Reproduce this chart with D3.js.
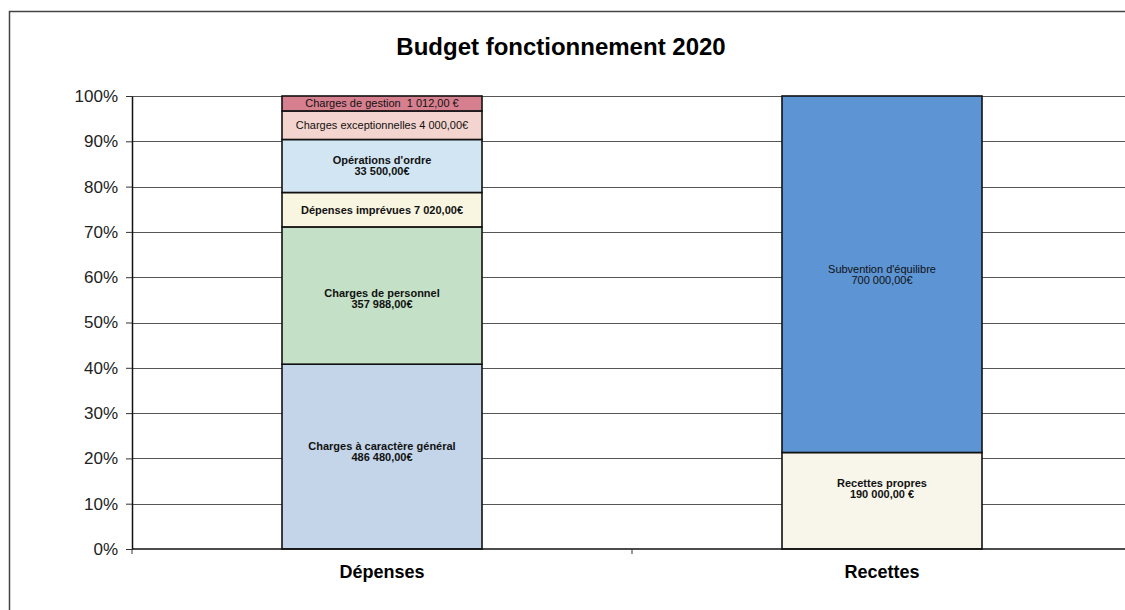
<!DOCTYPE html>
<html>
<head>
<meta charset="utf-8">
<script src="https://cdn.jsdelivr.net/npm/d3@7"></script>
<style>
  body { margin: 0; background: #fff; }
  svg text { font-family: "Liberation Sans", Arial, sans-serif; }
</style>
</head>
<body>
<div id="holder"></div>
<script>
// categories on the x axis
var categories = ["Dépenses", "Recettes"];

// Dépenses stack, bottom to top (share of the bar in %, as drawn)
var depensesNames = ["Charges à caractère général", "Charges de personnel", "Dépenses imprévues",
  "Opérations d'ordre", "Charges exceptionnelles", "Charges de gestion"];
var depensesAmounts = ["486 480,00€", "357 988,00€", "7 020,00€", "33 500,00€", "4 000,00€", "1 012,00 €"];
var depensesShares = [40.8, 30.3, 7.6, 11.7, 6.3, 3.3];

// Recettes stack, bottom to top
var recettesNames = ["Recettes propres", "Subvention d'équilibre"];
var recettesAmounts = ["190 000,00 €", "700 000,00€"];
var recettesShares = [21.3, 78.7];

var yTicks = [0, 10, 20, 30, 40, 50, 60, 70, 80, 90, 100];

var colors = {
  "Charges à caractère général": "#c4d5ea",
  "Charges de personnel": "#c4e0c6",
  "Dépenses imprévues": "#f8f5e1",
  "Opérations d'ordre": "#d2e5f3",
  "Charges exceptionnelles": "#f3d4ce",
  "Charges de gestion": "#d67f8e",
  "Recettes propres": "#f8f6ea",
  "Subvention d'équilibre": "#5c94d4"
};
// labels that are not bold
var plainLabels = ["Charges exceptionnelles", "Charges de gestion", "Subvention d'équilibre"];
// small hand nudges of the label blocks (px)
var nudge = { "Charges à caractère général": -5, "Charges de personnel": 3, "Recettes propres": -12 };

var fullWidth = 1125, fullHeight = 610;
var margin = {top: 96, left: 132, bottom: 61};
var height = fullHeight - margin.top - margin.bottom;

var svg = d3.select("#holder").append("svg")
  .attr("width", fullWidth)
  .attr("height", fullHeight);

// chart frame (right/bottom edges fall outside the picture)
svg.append("rect")
  .attr("x", 9.5).attr("y", 11.5)
  .attr("width", 1300).attr("height", 800)
  .attr("fill", "#fff")
  .attr("stroke", "#444").attr("stroke-width", 1.5);

svg.append("text")
  .attr("x", 561).attr("y", 55)
  .attr("text-anchor", "middle")
  .style("font-size", "24px").style("font-weight", "bold")
  .text("Budget fonctionnement 2020");

var g = svg.append("g")
  .attr("transform", "translate(" + margin.left + "," + margin.top + ")");

var xScale = d3.scaleBand()
  .domain(categories)
  .range([0, 1000])
  .paddingInner(0.6)
  .paddingOuter(0.3);

var yScale = d3.scaleLinear()
  .domain([0, 100])
  .range([height, 0]);

// gridlines
g.selectAll(".grid")
  .data(yTicks.slice(1))
  .enter().append("line")
  .attr("class", "grid")
  .attr("x1", 0).attr("x2", 1000)
  .attr("y1", function(d) { return Math.round(yScale(d)) + 0.5; })
  .attr("y2", function(d) { return Math.round(yScale(d)) + 0.5; })
  .attr("stroke", "#555").attr("stroke-width", 1.2);

function stack(names, amounts, shares) {
  var acc = 0;
  return names.map(function(n, i) {
    var d = {name: n, amount: amounts[i], y0: acc, y1: acc + shares[i], share: shares[i]};
    acc += shares[i];
    return d;
  });
}

var series = [
  {cat: "Dépenses", parts: stack(depensesNames, depensesAmounts, depensesShares)},
  {cat: "Recettes", parts: stack(recettesNames, recettesAmounts, recettesShares)}
];

series.forEach(function(s) {
  var bar = g.append("g").attr("class", "bar-holder");
  bar.selectAll("rect")
    .data(s.parts)
    .enter().append("rect")
    .attr("x", xScale(s.cat))
    .attr("width", xScale.bandwidth())
    .attr("y", function(d) { return yScale(d.y1); })
    .attr("height", function(d) { return yScale(d.y0) - yScale(d.y1); })
    .attr("fill", function(d) { return colors[d.name]; })
    .attr("stroke", "#111").attr("stroke-width", 1.6);

  var cx = xScale(s.cat) + xScale.bandwidth() / 2;
  s.parts.forEach(function(d) {
    var cy = (yScale(d.y0) + yScale(d.y1)) / 2 + (nudge[d.name] || 0);
    var t = bar.append("text")
      .attr("text-anchor", "middle")
      .style("font-size", "11px")
      .style("font-weight", plainLabels.indexOf(d.name) >= 0 ? "normal" : "bold")
      .attr("fill", "#111");
    if (d.share < 8) {
      var sep = d.name == "Charges de gestion" ? "  " : " ";
      t.attr("x", cx).attr("y", cy + 4).attr("xml:space", "preserve").text(d.name + sep + d.amount);
    } else {
      t.append("tspan").attr("x", cx).attr("y", cy - 1.5).text(d.name);
      t.append("tspan").attr("x", cx).attr("y", cy + 9.5).text(d.amount);
    }
  });
});

// y axis
var yAxis = d3.axisLeft(yScale)
  .tickValues(yTicks)
  .tickSize(6)
  .tickSizeOuter(0)
  .tickPadding(8)
  .tickFormat(function(d) { return d + "%"; });
var ya = g.append("g").call(yAxis);
ya.select(".domain").attr("stroke", "#111").attr("stroke-width", 1.5);
ya.selectAll(".tick line").attr("stroke", "#333");
ya.selectAll(".tick text")
  .style("font-size", "17px")
  .style("font-family", "'Liberation Sans', Arial, sans-serif")
  .attr("fill", "#222");

// x axis
g.append("line")
  .attr("x1", 0).attr("x2", 1000)
  .attr("y1", height).attr("y2", height)
  .attr("stroke", "#111").attr("stroke-width", 1.5);
g.selectAll(".xtick")
  .data(categories)
  .enter().append("line")
  .attr("class", "xtick")
  .attr("x1", function(d) { return xScale(d) - xScale.step() * 0.3; })
  .attr("x2", function(d) { return xScale(d) - xScale.step() * 0.3; })
  .attr("y1", height).attr("y2", height + 5)
  .attr("stroke", "#333");
g.selectAll(".xlabel")
  .data(categories)
  .enter().append("text")
  .attr("class", "xlabel")
  .attr("x", function(d) { return xScale(d) + xScale.bandwidth() / 2; })
  .attr("y", height + 29)
  .attr("text-anchor", "middle")
  .style("font-size", "18px").style("font-weight", "bold")
  .text(function(d) { return d; });
</script>
</body>
</html>
